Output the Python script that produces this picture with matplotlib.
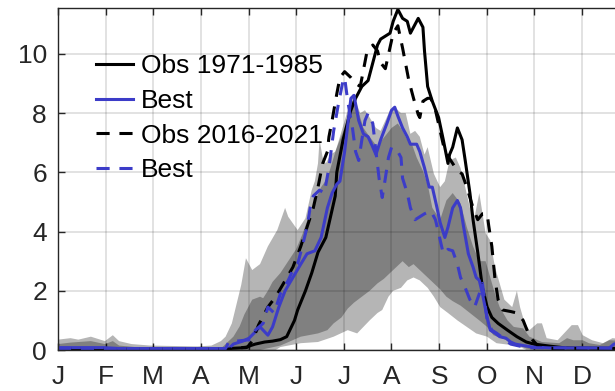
import numpy as np
import matplotlib.pyplot as plt

plt.rcParams['font.family'] = ['Liberation Sans', 'DejaVu Sans']

months = ['J', 'F', 'M', 'A', 'M', 'J', 'J', 'A', 'S', 'O', 'N', 'D']

# Obs 1971-1985 (day of year, value)
obs1_day = [1, 60, 110, 121, 124, 127, 133, 138, 143, 147, 149, 152, 154, 159, 163, 167, 169, 172,
            175, 178, 179, 183, 188, 191, 195, 199, 202, 205, 207, 210, 213, 215, 218, 221, 224,
            226, 228, 231, 234, 235, 237, 240, 244, 247, 250, 251, 253, 256, 259, 261, 264, 266,
            269, 272, 275, 278, 282, 288, 294, 300, 305, 315, 325, 365]
obs1_val = [0.05, 0.05, 0.05, 0.08, 0.15, 0.2, 0.27, 0.3, 0.35, 0.45, 0.67, 1.0, 1.35, 2.0, 2.6, 3.3,
            3.5, 3.8, 4.5, 5.2, 6.0, 7.1, 8.1, 8.5, 8.9, 9.1, 9.7, 10.3, 10.5, 10.6, 10.7, 11.1,
            11.5, 11.2, 11.1, 10.7, 10.9, 11.2, 10.9, 10.1, 8.9, 8.4, 7.85, 7.1, 6.3, 6.6, 6.85,
            7.5, 7.1, 6.4, 5.3, 4.4, 3.3, 2.1, 1.45, 1.1, 0.9, 0.67, 0.45, 0.27, 0.2, 0.13, 0.07, 0.05]

# Best (for 1971-1985)
best1_day = [1, 30, 40, 110, 113, 119, 123, 126, 130, 135, 138, 142, 146, 151, 156, 160, 165, 169,
             173, 176, 179, 181, 184, 188, 190, 193, 196, 199, 202, 204, 207, 211, 214, 216, 218,
             221, 224, 226, 230, 232, 235, 238, 240, 243, 245, 248, 250, 253, 256, 258, 260, 263,
             266, 268, 270, 272, 275, 277, 280, 283, 287, 290, 293, 298, 304, 315, 353, 356, 365]
best1_val = [0.08, 0.08, 0.05, 0.05, 0.2, 0.3, 0.4, 0.56, 0.78, 0.5, 0.78, 1.45, 2.0, 2.45, 2.9, 3.25,
             3.35, 3.8, 4.8, 5.3, 5.6, 5.7, 6.7, 8.5, 8.6, 7.75, 7.3, 7.2, 6.85, 6.6, 7.1, 7.65, 8.1,
             8.2, 7.9, 7.5, 7.2, 6.95, 6.95, 6.7, 6.15, 5.5, 5.5, 4.8, 4.3, 3.8, 4.15, 4.8, 5.05,
             4.8, 4.15, 3.25, 2.8, 2.45, 2.35, 1.9, 1.1, 0.67, 0.57, 0.45, 0.4, 0.27, 0.2, 0.15,
             0.1, 0.07, 0.07, 0.2, 0.3]

# Obs 2016-2021
obs2_day = [1, 110, 122, 125, 128, 129, 135, 140, 145, 151, 156, 160, 164, 167, 170, 173, 174, 176,
            179, 181, 184, 188, 191, 194, 198, 202, 205, 207, 210, 215, 218, 221, 223, 225, 228,
            231, 232, 234, 237, 239, 242, 245, 248, 253, 256, 259, 262, 266, 269, 272, 275, 276,
            278, 280, 282, 285, 290, 294, 298, 301, 304, 308, 315, 365]
obs2_val = [0.03, 0.03, 0.1, 0.3, 0.7, 0.84, 1.45, 1.8, 2.25, 2.8, 3.5, 4.15, 4.8, 5.5, 6.3, 6.7, 7.2,
            7.75, 8.65, 9.2, 9.4, 9.2, 9.0, 8.9, 10.0, 10.3, 10.1, 9.7, 9.5, 10.7, 10.95, 10.2, 9.65,
            9.1, 8.5, 7.95, 7.85, 8.4, 8.5, 8.5, 8.1, 7.4, 6.7, 6.3, 6.05, 5.95, 5.5, 4.8, 4.4, 4.6,
            4.6, 4.2, 3.5, 2.4, 1.7, 1.35, 1.3, 1.25, 1.0, 0.6, 0.34, 0.1, 0.05, 0.05]

# Best (for 2016-2021)
best2_day = [1, 108, 110, 115, 124, 127, 132, 135, 139, 143, 148, 151, 154, 157, 160, 162, 164, 168,
             171, 174, 177, 180, 183, 184, 186, 189, 191, 193, 195, 197, 199, 202, 204, 206, 208,
             210, 212, 214, 218, 220, 221, 224, 226, 229, 232, 235, 239, 242, 244, 247, 250, 253,
             256, 258, 261, 264, 267, 270, 272, 275, 278, 281, 284, 290, 300, 365]
best2_val = [0.05, 0.05, 0.27, 0.3, 0.35, 0.67, 0.9, 1.45, 1.25, 1.9, 2.35, 2.7, 2.9, 3.5, 4.15, 4.8,
             5.2, 5.4, 5.3, 6.15, 7.4, 8.3, 9.1, 9.2, 8.4, 7.5, 6.7, 6.4, 7.1, 7.75, 8.0, 7.65, 6.7,
             5.8, 5.15, 5.8, 6.5, 6.85, 6.7, 6.5, 5.8, 5.3, 4.8, 4.4, 4.5, 4.6, 4.7, 4.4, 3.95, 3.25,
             3.4, 3.35, 2.9, 2.45, 2.1, 1.7, 1.45, 1.9, 2.25, 1.0, 0.67, 0.57, 0.45, 0.2, 0.08, 0.05]

# outer (light) range
outer_up_day = [1, 9, 14, 22, 31, 36, 40, 48, 60, 90, 99, 105, 108, 112, 118, 121, 125, 130, 135,
                141, 144, 146, 148, 154, 159, 163, 165, 167, 168, 170, 172, 175, 178, 181, 184, 188,
                191, 194, 197, 200, 204, 207, 210, 213, 216, 220, 223, 226, 229, 232, 235, 237, 239,
                241, 245, 248, 251, 255, 258, 261, 264, 267, 270, 274, 277, 280, 283, 286, 291, 294,
                296, 299, 302, 307, 310, 313, 320, 323, 329, 333, 336, 342, 349, 355, 365]
outer_up_val = [0.35, 0.4, 0.35, 0.45, 0.3, 0.5, 0.3, 0.2, 0.15, 0.12, 0.15, 0.3, 0.45, 0.9, 2.2,
                3.1, 2.7, 2.9, 3.5, 4.05, 4.5, 4.8, 4.5, 4.05, 4.45, 5.4, 5.7, 6.3, 7.1, 6.5, 6.3,
                6.6, 6.7, 7.1, 7.5, 8.4, 8.4, 8.0, 8.1, 7.85, 7.5, 7.4, 7.75, 8.1, 8.2, 8.0, 8.0, 7.3,
                7.4, 7.2, 6.6, 6.85, 6.4, 5.95, 5.5, 5.7, 6.4, 6.5, 6.15, 5.5, 4.8, 4.5, 5.3, 3.95,
                3.7, 2.8, 2.25, 1.7, 1.45, 2.0, 1.45, 0.9, 0.67, 0.9, 0.9, 0.4, 0.33, 0.5, 0.84, 0.84,
                0.5, 0.33, 0.23, 0.4, 0.35]
outer_lo_day = [1, 140, 143, 156, 167, 177, 186, 192, 196, 200, 205, 208, 212, 215, 220, 224, 228,
                232, 237, 241, 245, 250, 256, 262, 268, 275, 281, 290, 296, 300, 365]
outer_lo_val = [0, 0, 0.1, 0.23, 0.27, 0.45, 0.67, 0.56, 0.78, 1.0, 1.25, 1.35, 1.8, 2.0, 2.1, 2.35,
                2.45, 2.35, 2.1, 1.8, 1.45, 1.25, 1.0, 0.78, 0.56, 0.45, 0.23, 0.17, 0.1, 0, 0]

# inner (dark) range
inner_up_day = [1, 9, 22, 31, 36, 40, 50, 100, 106, 113, 117, 120, 125, 130, 132, 135, 138, 143,
                148, 153, 157, 161, 165, 169, 173, 177, 181, 186, 189, 192, 196, 200, 205, 208, 211,
                214, 218, 221, 224, 227, 230, 234, 237, 240, 245, 249, 253, 258, 262, 266, 270, 274,
                277, 280, 283, 288, 292, 298, 302, 310, 321, 326, 330, 336, 340, 347, 353, 365]
inner_up_val = [0.2, 0.25, 0.3, 0.2, 0.3, 0.15, 0.1, 0.08, 0.1, 0.45, 0.8, 1.2, 1.7, 1.8, 1.75, 2.0,
                2.3, 2.6, 3.0, 3.4, 3.9, 4.5, 5.0, 5.5, 5.8, 6.5, 7.2, 8.1, 8.65, 8.2, 7.5, 7.2, 6.85,
                7.1, 7.3, 7.5, 7.65, 7.4, 7.1, 6.95, 6.5, 6.05, 5.6, 4.8, 4.4, 5.05, 5.3, 4.95, 4.15,
                3.5, 3.0, 3.0, 2.45, 1.9, 1.45, 1.0, 0.78, 0.73, 0.45, 0.27, 0.23, 0.4, 0.33, 0.33,
                0.23, 0.17, 0.33, 0.3]
inner_lo_day = [1, 130, 143, 156, 167, 173, 177, 182, 186, 190, 195, 200, 205, 209, 213, 217, 221,
                225, 228, 232, 237, 240, 245, 249, 253, 258, 264, 270, 275, 279, 287, 292, 300, 305, 365]
inner_lo_val = [0, 0, 0.15, 0.45, 0.56, 0.67, 0.9, 1.1, 1.4, 1.6, 1.8, 2.0, 2.25, 2.4, 2.6, 2.8, 3.0,
                2.8, 2.9, 2.7, 2.45, 2.3, 2.05, 1.8, 1.65, 1.5, 1.25, 1.0, 0.78, 0.5, 0.34, 0.23, 0.05,
                0, 0]

blue = '#3c3cc8'

fig = plt.figure(figsize=(6.15, 3.91), dpi=100)
ax = fig.add_axes([58 / 615, 41 / 391, 0.927, 342 / 391])

ax.grid(True, color='k', alpha=0.15, lw=1.1)
ax.set_axisbelow(True)

ax.fill(outer_up_day + outer_lo_day[::-1], outer_up_val + outer_lo_val[::-1],
        color='k', alpha=0.29, lw=0)
ax.fill(inner_up_day + inner_lo_day[::-1], inner_up_val + inner_lo_val[::-1],
        color='k', alpha=0.29, lw=0)

dash = (0, (4.3, 3.2))
ax.plot(obs1_day, obs1_val, color='k', lw=2.2, label='Obs 1971-1985')
ax.plot(best1_day, best1_val, color=blue, lw=2.2, label='Best')
ax.plot(obs2_day, obs2_val, color='k', lw=2.2, ls=dash, label='Obs 2016-2021')
ax.plot(best2_day, best2_val, color=blue, lw=2.2, ls=dash, label='Best')

ax.set_xlim(1, 365)
ax.set_ylim(0, 11.55)
ax.set_xticks(1 + np.arange(12) * 365 / 12)
ax.set_xticklabels(months)
ax.set_yticks(np.arange(0, 11, 2))
ax.tick_params(direction='in', top=True, right=True, length=5, width=1,
               labelsize=19, colors='#262626')
ax.tick_params(axis='x', pad=11)
ax.tick_params(axis='y', pad=8)
for s in ax.spines.values():
    s.set_color('#262626')
    s.set_linewidth(1)

ax.legend(loc='upper left', bbox_to_anchor=(0.048, 0.895), frameon=False,
          fontsize=19, handlelength=1.42, handletextpad=0.3, labelspacing=0.4,
          borderaxespad=0)

fig.savefig('out.png', dpi=100)
